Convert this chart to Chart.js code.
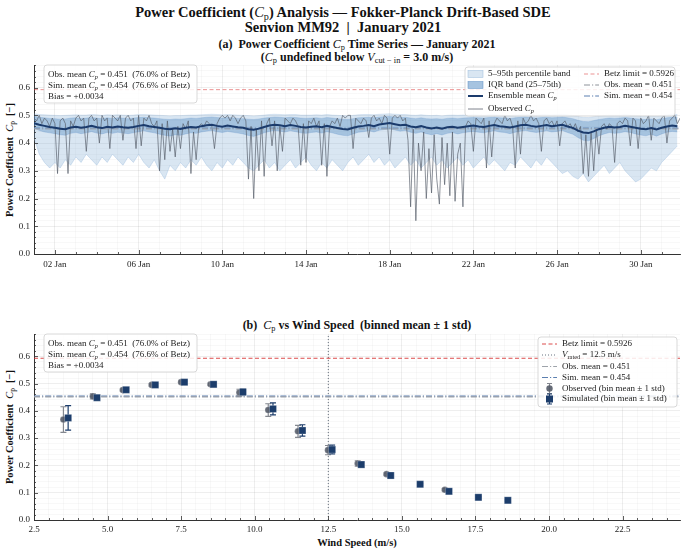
<!DOCTYPE html>
<html>
<head>
<meta charset="utf-8">
<script src="https://cdn.jsdelivr.net/npm/chart.js@4.4.1/dist/chart.umd.min.js"></script>
<style>
  body { margin: 0; background: #fff; }
  #wrap { position: relative; width: 686px; height: 551px; background: #fff; overflow: hidden; font-family: "Liberation Serif", serif; color: #111; }
  .t { position: absolute; text-align: center; font-weight: bold; white-space: pre; }
  .m { font-weight: normal; }
  sub { font-size: 70%; vertical-align: -0.25em; line-height: 0; }
  canvas { position: absolute; left: 0; }
  .yl { position: absolute; width: 180px; height: 12px; line-height: 12px; font-size: 10.5px; font-weight: bold; text-align: center; transform: rotate(-90deg); white-space: pre; }
</style>
</head>
<body>
<div id="wrap">
  <div class="t" style="left:0;width:686px;top:4px;font-size:14.5px;line-height:16px">Power Coefficient (<span class="m"><i>C</i><sub>p</sub></span>) Analysis — Fokker-Planck Drift-Based SDE</div>
  <div class="t" style="left:0;width:686px;top:19px;font-size:14.5px;line-height:16px">Senvion MM92  |  January 2021</div>
  <div class="t" style="left:34px;width:646px;top:37px;font-size:12px;line-height:14px">(a)  Power Coefficient <span class="m"><i>C</i><sub>p</sub></span> Time Series — January 2021</div>
  <div class="t" style="left:34px;width:646px;top:50px;font-size:12px;line-height:14px">(<span class="m"><i>C</i><sub>p</sub></span> undefined below <span class="m"><i>V</i><sub>cut − in</sub></span> = 3.0 m/s)</div>
  <div class="t" style="left:34px;width:646px;top:318px;font-size:12px;line-height:14px">(b)  <span class="m"><i>C</i><sub>p</sub></span> vs Wind Speed  (binned mean ± 1 std)</div>
  <div class="t" style="left:34px;width:646px;top:537px;font-size:10.5px;line-height:12px">Wind Speed (m/s)</div>
  <div class="yl" style="left:-80px;top:154px">Power Coefficient  <span class="m"><i>C</i><sub>p</sub></span>  [−]</div>
  <div class="yl" style="left:-80px;top:421px">Power Coefficient  <span class="m"><i>C</i><sub>p</sub></span>  [−]</div>
  <canvas id="c1" width="686" height="280" style="top:0"></canvas>
  <canvas id="c2" width="686" height="271" style="top:280px"></canvas>
</div>
<script>
// ---- panel (a): time series, January 2021 (x = days since 01 Jan 00:00) ----
const obsStepHours = 3;
const bandStepHours = 6;

// observed Cp, 3-hourly, one row per day
const obsCp = [
  0.49, 0.48, 0.50, 0.47, 0.49, 0.48, 0.46, 0.49,
  0.47, 0.29, 0.48, 0.49, 0.47, 0.29, 0.48, 0.46,
  0.49, 0.50, 0.48, 0.49, 0.37, 0.49, 0.50, 0.48,
  0.49, 0.40, 0.50, 0.48, 0.49, 0.38, 0.50, 0.49,
  0.48, 0.50, 0.41, 0.49, 0.50, 0.48, 0.49, 0.38,
  0.50, 0.39, 0.49, 0.48, 0.50, 0.47, 0.46, 0.48,
  0.30, 0.47, 0.34, 0.48, 0.37, 0.45, 0.35, 0.46,
  0.38, 0.47, 0.45, 0.48, 0.29, 0.44, 0.34, 0.46,
  0.47, 0.46, 0.48, 0.47, 0.46, 0.38, 0.47, 0.49,
  0.50, 0.49, 0.50, 0.48, 0.50, 0.49, 0.47, 0.49,
  0.50, 0.48, 0.27, 0.46, 0.20, 0.45, 0.30, 0.48,
  0.28, 0.47, 0.49, 0.39, 0.48, 0.30, 0.46, 0.37,
  0.49, 0.48, 0.47, 0.49, 0.48, 0.46, 0.32, 0.47,
  0.33, 0.48, 0.47, 0.49, 0.46, 0.48, 0.32, 0.47,
  0.28, 0.46, 0.48, 0.47, 0.49, 0.46, 0.50, 0.49,
  0.50, 0.50, 0.38, 0.49, 0.48, 0.47, 0.49, 0.48,
  0.42, 0.49, 0.50, 0.48, 0.49, 0.47, 0.50, 0.49,
  0.36, 0.49, 0.50, 0.49, 0.50, 0.48, 0.49, 0.41,
  0.17, 0.45, 0.12, 0.40, 0.30, 0.44, 0.20, 0.38,
  0.22, 0.43, 0.27, 0.18, 0.42, 0.25, 0.40, 0.21,
  0.44, 0.19, 0.36, 0.40, 0.17, 0.46, 0.48, 0.47,
  0.37, 0.49, 0.48, 0.47, 0.49, 0.31, 0.48, 0.35,
  0.47, 0.49, 0.48, 0.47, 0.50, 0.48, 0.49, 0.46,
  0.31, 0.48, 0.36, 0.49, 0.47, 0.48, 0.50, 0.48,
  0.49, 0.47, 0.37, 0.48, 0.49, 0.47, 0.48, 0.46,
  0.48, 0.39, 0.47, 0.48, 0.46, 0.47, 0.45, 0.47,
  0.44, 0.46, 0.29, 0.43, 0.28, 0.44, 0.30, 0.45,
  0.36, 0.46, 0.47, 0.45, 0.47, 0.46, 0.33, 0.47,
  0.48, 0.47, 0.49, 0.48, 0.39, 0.49, 0.48, 0.38,
  0.49, 0.47, 0.48, 0.50, 0.41, 0.49, 0.48, 0.47,
  0.49, 0.50, 0.40, 0.48, 0.49, 0.50, 0.47, 0.49
];

// ensemble statistics, 6-hourly, one row per day
const ensMean = [
  0.472, 0.466, 0.462, 0.458,  0.455, 0.452, 0.450, 0.456,  0.459, 0.455, 0.458, 0.462,
  0.457, 0.454, 0.459, 0.456,  0.460, 0.457, 0.455, 0.458,  0.462, 0.465, 0.461, 0.458,
  0.455, 0.452, 0.450, 0.453,  0.451, 0.455, 0.458, 0.456,  0.461, 0.464, 0.466, 0.462,
  0.459, 0.463, 0.460, 0.457,  0.455, 0.450, 0.448, 0.452,  0.458, 0.463, 0.466, 0.464,
  0.461, 0.465, 0.462, 0.458,  0.456, 0.459, 0.461, 0.457,  0.462, 0.458, 0.454, 0.451,
  0.449, 0.455, 0.460, 0.462,  0.465, 0.461, 0.467, 0.470,  0.472, 0.468, 0.464, 0.466,
  0.460, 0.457, 0.461, 0.456,  0.453, 0.456, 0.452, 0.457,  0.459, 0.455, 0.458, 0.461,
  0.463, 0.460, 0.458, 0.462,  0.465, 0.461, 0.459, 0.456,  0.460, 0.464, 0.466, 0.462,
  0.459, 0.462, 0.465, 0.461,  0.463, 0.466, 0.460, 0.455,  0.445, 0.438, 0.436, 0.442,
  0.450, 0.455, 0.459, 0.456,  0.458, 0.462, 0.459, 0.455,  0.452, 0.450, 0.454, 0.449,
  0.455, 0.460, 0.463, 0.461
];
const p05 = [
  0.42, 0.36, 0.33, 0.31,  0.33, 0.31, 0.34, 0.32,  0.35, 0.33, 0.36, 0.34,
  0.32, 0.35, 0.33, 0.36,  0.34, 0.32, 0.35, 0.33,  0.36, 0.33, 0.31, 0.34,
  0.30, 0.27, 0.32, 0.30,  0.33, 0.31, 0.34, 0.32,  0.35, 0.32, 0.30, 0.33,
  0.31, 0.34, 0.32, 0.35,  0.33, 0.31, 0.30, 0.32,  0.34, 0.31, 0.33, 0.30,
  0.32, 0.34, 0.31, 0.33,  0.35, 0.32, 0.30, 0.33,  0.31, 0.34, 0.32, 0.30,
  0.33, 0.35, 0.32, 0.34,  0.36, 0.33, 0.35, 0.32,  0.34, 0.31, 0.33, 0.35,
  0.32, 0.34, 0.31, 0.33,  0.35, 0.32, 0.34, 0.31,  0.33, 0.35, 0.32, 0.34,
  0.31, 0.33, 0.35, 0.32,  0.34, 0.32, 0.30, 0.33,  0.32, 0.35, 0.33, 0.31,
  0.34, 0.32, 0.35, 0.33,  0.31, 0.29, 0.30, 0.28,  0.27, 0.29, 0.26, 0.28,
  0.30, 0.32, 0.29, 0.31,  0.33, 0.30, 0.28, 0.26,  0.27, 0.29, 0.31, 0.30,
  0.33, 0.35, 0.37, 0.39
];
const p25 = [
  0.455, 0.445, 0.440, 0.437,  0.434, 0.430, 0.428, 0.435,  0.438, 0.434, 0.437, 0.441,
  0.436, 0.433, 0.438, 0.435,  0.439, 0.436, 0.434, 0.437,  0.441, 0.444, 0.440, 0.437,
  0.432, 0.428, 0.425, 0.430,  0.428, 0.433, 0.437, 0.435,  0.440, 0.443, 0.445, 0.441,
  0.438, 0.442, 0.439, 0.436,  0.433, 0.427, 0.424, 0.430,  0.437, 0.442, 0.445, 0.443,
  0.440, 0.444, 0.441, 0.437,  0.435, 0.438, 0.440, 0.436,  0.441, 0.437, 0.432, 0.428,
  0.426, 0.433, 0.439, 0.441,  0.444, 0.440, 0.446, 0.449,  0.451, 0.447, 0.443, 0.445,
  0.439, 0.435, 0.440, 0.434,  0.430, 0.434, 0.429, 0.435,  0.438, 0.433, 0.437, 0.440,
  0.442, 0.439, 0.437, 0.441,  0.444, 0.440, 0.438, 0.434,  0.439, 0.443, 0.445, 0.441,
  0.438, 0.441, 0.444, 0.440,  0.442, 0.445, 0.438, 0.432,  0.420, 0.410, 0.408, 0.416,
  0.426, 0.433, 0.438, 0.435,  0.437, 0.441, 0.438, 0.433,  0.429, 0.426, 0.432, 0.425,
  0.433, 0.439, 0.442, 0.440
];
const p75 = [
  0.497, 0.493, 0.491, 0.489,  0.488, 0.486, 0.487, 0.490,  0.491, 0.489, 0.490, 0.492,
  0.490, 0.488, 0.491, 0.489,  0.491, 0.490, 0.488, 0.490,  0.492, 0.493, 0.491, 0.490,
  0.488, 0.486, 0.485, 0.487,  0.486, 0.488, 0.490, 0.489,  0.491, 0.493, 0.494, 0.492,
  0.490, 0.492, 0.491, 0.489,  0.488, 0.486, 0.485, 0.487,  0.490, 0.492, 0.494, 0.493,
  0.491, 0.493, 0.492, 0.490,  0.489, 0.490, 0.491, 0.489,  0.492, 0.490, 0.488, 0.486,
  0.485, 0.488, 0.491, 0.492,  0.493, 0.491, 0.494, 0.495,  0.496, 0.494, 0.492, 0.493,
  0.490, 0.488, 0.491, 0.488,  0.487, 0.488, 0.486, 0.489,  0.490, 0.488, 0.490, 0.491,
  0.492, 0.491, 0.490, 0.492,  0.493, 0.491, 0.490, 0.488,  0.491, 0.493, 0.494, 0.492,
  0.490, 0.492, 0.493, 0.491,  0.492, 0.494, 0.491, 0.488,  0.482, 0.478, 0.477, 0.481,
  0.485, 0.488, 0.490, 0.489,  0.490, 0.492, 0.490, 0.488,  0.486, 0.485, 0.487, 0.484,
  0.488, 0.491, 0.493, 0.492
];
const p95 = [
  0.506, 0.503, 0.502, 0.501,  0.500, 0.499, 0.500, 0.501,  0.502, 0.501, 0.501, 0.503,
  0.502, 0.500, 0.502, 0.501,  0.502, 0.501, 0.500, 0.501,  0.503, 0.503, 0.502, 0.501,
  0.500, 0.499, 0.498, 0.499,  0.499, 0.500, 0.501, 0.501,  0.502, 0.503, 0.504, 0.503,
  0.502, 0.503, 0.502, 0.501,  0.500, 0.499, 0.498, 0.499,  0.501, 0.503, 0.504, 0.503,
  0.502, 0.503, 0.503, 0.501,  0.501, 0.501, 0.502, 0.501,  0.503, 0.501, 0.500, 0.499,
  0.498, 0.500, 0.502, 0.503,  0.503, 0.502, 0.504, 0.505,  0.506, 0.504, 0.503, 0.503,
  0.501, 0.500, 0.502, 0.500,  0.499, 0.500, 0.498, 0.500,  0.501, 0.500, 0.501, 0.502,
  0.503, 0.502, 0.501, 0.503,  0.503, 0.502, 0.501, 0.500,  0.502, 0.503, 0.504, 0.503,
  0.501, 0.503, 0.503, 0.502,  0.503, 0.504, 0.502, 0.500,  0.496, 0.493, 0.492, 0.495,
  0.498, 0.500, 0.501, 0.501,  0.501, 0.503, 0.501, 0.500,  0.498, 0.497, 0.499, 0.497,
  0.500, 0.502, 0.504, 0.503
];

const betzLimit = 0.5926;
const obsMeanCp = 0.451;
const simMeanCp = 0.454;
const vRated = 12.5;
const cpMax = 0.6815;      // y limit, both panels
const tsDays = 30.875;     // x limit, panel (a)

// ---- panel (b): binned Cp vs wind speed ----
const obsWind    = [3.50, 4.50, 5.52, 6.50, 7.50, 8.50, 9.48, 10.46, 11.47, 12.49, 13.50, 14.48, null, 16.46, null, null];
const obsBinMean = [0.368, 0.453, 0.476, 0.495, 0.505, 0.497, 0.467, 0.403, 0.325, 0.256, 0.207, 0.168, null, 0.111, null, null];
const obsBinStd  = [0.047, 0.009, 0.004, 0.004, 0.004, 0.004, 0.012, 0.023, 0.022, 0.017, 0.010, 0.004, null, 0.004, null, null];
const simWind    = [3.66, 4.64, 5.63, 6.62, 7.61, 8.60, 9.60, 10.62, 11.62, 12.63, 13.62, 14.62, 15.62, 16.60, 17.60, 18.60];
const simBinMean = [0.374, 0.448, 0.477, 0.495, 0.505, 0.497, 0.469, 0.407, 0.328, 0.258, 0.203, 0.163, 0.131, 0.105, 0.083, 0.072];
const simBinStd  = [0.045, 0.007, 0.004, 0.004, 0.004, 0.004, 0.011, 0.022, 0.021, 0.016, 0.010, 0.005, 0.003, 0.003, 0.003, 0.003];
const windMin = 2.5, windMax = 24.45;

const boxLines = [
  [['Obs. mean ', ''], ['C', 'i'], ['p', 'is'], [' = 0.451  (76.0% of Betz)', '']],
  [['Sim. mean ', ''], ['C', 'i'], ['p', 'is'], [' = 0.454  (76.6% of Betz)', '']],
  [['Bias = +0.0034', '']]
];

// colours
const cBand = 'rgba(120,165,210,0.28)';
const cIqr = 'rgba(70,130,190,0.35)';
const cMean = '#1b3b6c';
const cObs = 'rgba(85,92,105,0.75)';
const cBetzA = 'rgba(220,60,60,0.55)';
const cBetzB = 'rgba(214,45,45,0.85)';
const cObsMean = '#9ea3aa';
const cSimMean = '#5b7fb0';
const cRated = '#66707e';
const cObsPt = 'rgba(84,91,104,0.9)';
const cSimPt = '#1c3d6b';
const dashDot = [6, 2, 1.2, 2];

Chart.defaults.font.family = '"Liberation Serif", serif';
Chart.defaults.color = '#222';

const FAM = '"Liberation Serif", serif';
function richText(ctx, parts, x, y, size) {
  let cx = x;
  ctx.textBaseline = 'middle';
  ctx.textAlign = 'left';
  ctx.fillStyle = '#222';
  parts.forEach(([t, st]) => {
    const sub = st.includes('s');
    ctx.font = (st.includes('i') ? 'italic ' : '') + (sub ? size * 0.7 : size) + 'px ' + FAM;
    ctx.fillText(t, cx, sub ? y + size * 0.28 : y);
    cx += ctx.measureText(t).width;
  });
}
function roundBox(ctx, x, y, w, h) {
  ctx.save();
  ctx.beginPath();
  ctx.roundRect(x, y, w, h, 3);
  ctx.fillStyle = 'rgba(255,255,255,0.85)';
  ctx.fill();
  ctx.strokeStyle = '#cfcfcf';
  ctx.lineWidth = 0.8;
  ctx.stroke();
  ctx.restore();
}
function handleLine(ctx, x, y, color, dash, lw) {
  ctx.save();
  ctx.strokeStyle = color; ctx.lineWidth = lw; ctx.setLineDash(dash);
  ctx.beginPath(); ctx.moveTo(x, y); ctx.lineTo(x + 15, y); ctx.stroke();
  ctx.restore();
}
function handlePatch(ctx, x, y, fill, edge) {
  ctx.save();
  ctx.fillStyle = fill; ctx.fillRect(x, y - 3.5, 15, 7);
  ctx.strokeStyle = edge; ctx.lineWidth = 0.6; ctx.strokeRect(x, y - 3.5, 15, 7);
  ctx.restore();
}

// inward tick marks, major longer than minor
const inTicks = {
  id: 'inTicks',
  afterDraw(chart) {
    const { ctx, chartArea: a, scales: { x, y } } = chart;
    ctx.save();
    ctx.strokeStyle = '#333'; ctx.lineWidth = 0.8;
    ctx.beginPath();
    x.ticks.forEach(t => {
      const px = Math.round(x.getPixelForValue(t.value)) + 0.5;
      ctx.moveTo(px, a.bottom); ctx.lineTo(px, a.bottom - (t.mj ? 4 : 2));
    });
    y.ticks.forEach(t => {
      const py = Math.round(y.getPixelForValue(t.value)) + 0.5;
      ctx.moveTo(a.left, py); ctx.lineTo(a.left + (t.mj ? 4 : 2), py);
    });
    ctx.stroke();
    ctx.restore();
  }
};

function statBox(ctx, x0, y0) {
  roundBox(ctx, x0, y0, 153, 38);
  boxLines.forEach((ln, i) => richText(ctx, ln, x0 + 4, y0 + 10 + i * 11, 9));
}

const legendA = {
  id: 'legendA',
  afterDraw(chart) {
    const ctx = chart.ctx;
    statBox(ctx, 44, 65);
    roundBox(ctx, 465, 67, 210, 49);
    const r = [74, 85, 96, 109];
    handlePatch(ctx, 468, r[0], 'rgb(217,230,242)', 'rgba(150,185,220,0.8)');
    richText(ctx, [['5–95th percentile band', '']], 488, r[0], 9);
    handlePatch(ctx, 468, r[1], 'rgb(166,195,224)', 'rgba(90,140,195,0.8)');
    richText(ctx, [['IQR band (25–75th)', '']], 488, r[1], 9);
    handleLine(ctx, 468, r[2], cMean, [], 2);
    richText(ctx, [['Ensemble mean ', ''], ['C', 'i'], ['p', 'is']], 488, r[2], 9);
    handleLine(ctx, 468, r[3], cObs, [], 1);
    richText(ctx, [['Observed ', ''], ['C', 'i'], ['p', 'is']], 488, r[3], 9);
    handleLine(ctx, 584, r[0], cBetzA, [4, 2.5], 1);
    richText(ctx, [['Betz limit = 0.5926', '']], 604, r[0], 9);
    handleLine(ctx, 584, r[1], '#8d9299', dashDot, 1);
    richText(ctx, [['Obs. mean = 0.451', '']], 604, r[1], 9);
    handleLine(ctx, 584, r[2], cSimMean, dashDot, 1);
    richText(ctx, [['Sim. mean = 0.454', '']], 604, r[2], 9);
  }
};

const legendB = {
  id: 'legendB',
  afterDraw(chart) {
    const ctx = chart.ctx;
    statBox(ctx, 44, 54);
    roundBox(ctx, 538, 57, 139, 70);
    const r = [64, 75, 86.5, 97.5, 108.5, 119];
    handleLine(ctx, 542, r[0], cBetzB, [4, 2.5], 1);
    richText(ctx, [['Betz limit = 0.5926', '']], 562, r[0], 9);
    handleLine(ctx, 542, r[1], cRated, [1, 2], 1);
    richText(ctx, [['V', 'i'], ['rated', 's'], [' = 12.5 m/s', '']], 562, r[1], 9);
    handleLine(ctx, 542, r[2], cObsMean, dashDot, 1);
    richText(ctx, [['Obs. mean = 0.451', '']], 562, r[2], 9);
    handleLine(ctx, 542, r[3], cSimMean, dashDot, 1);
    richText(ctx, [['Sim. mean = 0.454', '']], 562, r[3], 9);
    // marker handles with error bars
    [[r[4], cObsPt, 'rgba(110,115,125,0.85)', 'circle'], [r[5], cSimPt, cSimPt, 'rect']].forEach(([yy, fc, ec, shape]) => {
      ctx.save();
      ctx.strokeStyle = ec; ctx.lineWidth = 1.1;
      ctx.beginPath();
      ctx.moveTo(549.5, yy - 5); ctx.lineTo(549.5, yy + 5);
      ctx.moveTo(547, yy - 5); ctx.lineTo(552, yy - 5);
      ctx.moveTo(547, yy + 5); ctx.lineTo(552, yy + 5);
      ctx.stroke();
      ctx.fillStyle = fc;
      ctx.beginPath();
      if (shape === 'circle') ctx.arc(549.5, yy, 3.2, 0, Math.PI * 2); else ctx.rect(546, yy - 3.5, 7, 7);
      ctx.fill();
      ctx.restore();
    });
    richText(ctx, [['Observed (bin mean ± 1 std)', '']], 562, r[4], 9);
    richText(ctx, [['Simulated (bin mean ± 1 std)', '']], 562, r[5], 9);
  }
};

// error bars drawn just before each scatter dataset's markers
const errBars = {
  id: 'errBars',
  beforeDatasetDraw(chart, args) {
    const ds = chart.data.datasets[args.index];
    if (!ds.errColor) return;
    const { ctx } = chart;
    const y = chart.scales.y;
    ctx.save();
    ctx.strokeStyle = ds.errColor; ctx.lineWidth = 1.2;
    ctx.beginPath();
    args.meta.data.forEach((pt, i) => {
      const raw = ds.data[i];
      const top = y.getPixelForValue(raw.y + raw.s), bot = y.getPixelForValue(raw.y - raw.s);
      ctx.moveTo(pt.x, top); ctx.lineTo(pt.x, bot);
      ctx.moveTo(pt.x - 3, top); ctx.lineTo(pt.x + 3, top);
      ctx.moveTo(pt.x - 3, bot); ctx.lineTo(pt.x + 3, bot);
    });
    ctx.stroke();
    ctx.restore();
  }
};

const gridCol = c => (c.tick && c.tick.mj) ? 'rgba(0,0,0,0.085)' : 'rgba(0,0,0,0.035)';
const cpTicks = s => {
  const t = [];
  for (let k = 0; k <= 34; k++) t.push({ value: k / 50, mj: k % 5 === 0 });
  s.ticks = t;
};
const yScale = {
  min: 0, max: cpMax,
  afterBuildTicks: cpTicks,
  afterFit: s => { s.width = 34; },
  ticks: { autoSkip: false, padding: 4, font: { size: 9 }, color: '#222',
           callback: function (v, i, ts) { return ts[i].mj ? v.toFixed(1) : ''; } },
  grid: { color: gridCol, drawTicks: false, lineWidth: 0.8 },
  border: { color: '#333', width: 1 }
};
const toPts = (arr, stepH) => arr.map((v, i) => ({ x: i * stepH / 24, y: v }));
const hLine = (v, x0, x1) => [{ x: x0, y: v }, { x: x1, y: v }];

new Chart(document.getElementById('c1'), {
  type: 'line',
  data: {
    datasets: [
      { data: toPts(p95, bandStepHours), borderColor: 'rgba(150,185,220,0.45)', borderWidth: 0.6, backgroundColor: cBand, fill: 1, order: 10 },
      { data: toPts(p05, bandStepHours), borderColor: 'rgba(170,198,228,0.55)', borderWidth: 0.8, fill: false, order: 10 },
      { data: toPts(p75, bandStepHours), borderColor: 'rgba(110,155,205,0.5)', borderWidth: 0.6, backgroundColor: cIqr, fill: 3, order: 9 },
      { data: toPts(p25, bandStepHours), borderColor: 'rgba(110,155,205,0.5)', borderWidth: 0.6, fill: false, order: 9 },
      { data: hLine(obsMeanCp, 0, tsDays), borderColor: cObsMean, borderWidth: 1, borderDash: dashDot, order: 6 },
      { data: hLine(simMeanCp, 0, tsDays), borderColor: cSimMean, borderWidth: 1, borderDash: dashDot, order: 6 },
      { data: hLine(betzLimit, 0, tsDays), borderColor: cBetzA, borderWidth: 1, borderDash: [4, 2.5], order: 6 },
      { data: toPts(obsCp, obsStepHours), borderColor: cObs, borderWidth: 0.9, order: 4 },
      { data: toPts(ensMean, bandStepHours), borderColor: cMean, borderWidth: 2, order: 2 }
    ]
  },
  options: {
    responsive: false, animation: false,
    layout: { padding: { top: 65, right: 6, left: 0, bottom: 0 } },
    elements: { point: { radius: 0 }, line: { tension: 0 } },
    plugins: { legend: { display: false }, tooltip: { enabled: false } },
    scales: {
      x: {
        type: 'linear', min: 0, max: tsDays,
        afterBuildTicks: s => {
          const t = [];
          for (let d = 0; d <= 30; d++) t.push({ value: d, mj: (d - 1) % 4 === 0 });
          s.ticks = t;
        },
        afterFit: s => { s.height = 26; },
        ticks: { autoSkip: false, maxRotation: 0, padding: 5, font: { size: 9 }, color: '#222',
                 callback: function (v, i, ts) { return ts[i].mj ? String(v + 1).padStart(2, '0') + ' Jan' : ''; } },
        grid: { color: gridCol, drawTicks: false, lineWidth: 0.8 },
        border: { color: '#333', width: 1 }
      },
      y: yScale
    }
  },
  plugins: [inTicks, legendA]
});

const obsPts = obsWind.map((w, i) => w == null ? null : { x: w, y: obsBinMean[i], s: obsBinStd[i] }).filter(p => p);
const simPts = simWind.map((w, i) => ({ x: w, y: simBinMean[i], s: simBinStd[i] }));

new Chart(document.getElementById('c2'), {
  type: 'scatter',
  data: {
    datasets: [
      { data: hLine(betzLimit, windMin, windMax), showLine: true, pointRadius: 0, borderColor: cBetzB, borderWidth: 1, borderDash: [4, 2.5], order: 8 },
      { data: [{ x: vRated, y: 0 }, { x: vRated, y: cpMax }], showLine: true, pointRadius: 0, borderColor: cRated, borderWidth: 1, borderDash: [1, 2], order: 8 },
      { data: hLine(obsMeanCp, windMin, windMax), showLine: true, pointRadius: 0, borderColor: cObsMean, borderWidth: 1.2, borderDash: dashDot, order: 7 },
      { data: hLine(simMeanCp, windMin, windMax), showLine: true, pointRadius: 0, borderColor: cSimMean, borderWidth: 1.2, borderDash: dashDot, order: 7 },
      { data: obsPts, pointStyle: 'circle', pointRadius: 3.3, backgroundColor: cObsPt, borderColor: 'rgba(255,255,255,0.4)', borderWidth: 0.5, errColor: 'rgba(110,115,125,0.85)', order: 3 },
      { data: simPts, pointStyle: 'rect', pointRadius: 5, backgroundColor: cSimPt, borderColor: 'rgba(255,255,255,0.5)', borderWidth: 0.5, errColor: cSimPt, order: 2 }
    ]
  },
  options: {
    responsive: false, animation: false,
    layout: { padding: { top: 54, right: 6, left: 0, bottom: 0 } },
    plugins: { legend: { display: false }, tooltip: { enabled: false } },
    scales: {
      x: {
        type: 'linear', min: windMin, max: windMax,
        afterBuildTicks: s => {
          const t = [];
          for (let k = 5; k <= 48; k++) t.push({ value: k / 2, mj: k % 5 === 0 });
          s.ticks = t;
        },
        afterFit: s => { s.height = 31; },
        ticks: { autoSkip: false, maxRotation: 0, padding: 4, font: { size: 9 }, color: '#222',
                 callback: function (v, i, ts) { return ts[i].mj ? v.toFixed(1) : ''; } },
        grid: { color: gridCol, drawTicks: false, lineWidth: 0.8 },
        border: { color: '#333', width: 1 }
      },
      y: yScale
    }
  },
  plugins: [inTicks, errBars, legendB]
});
</script>
</body>
</html>
